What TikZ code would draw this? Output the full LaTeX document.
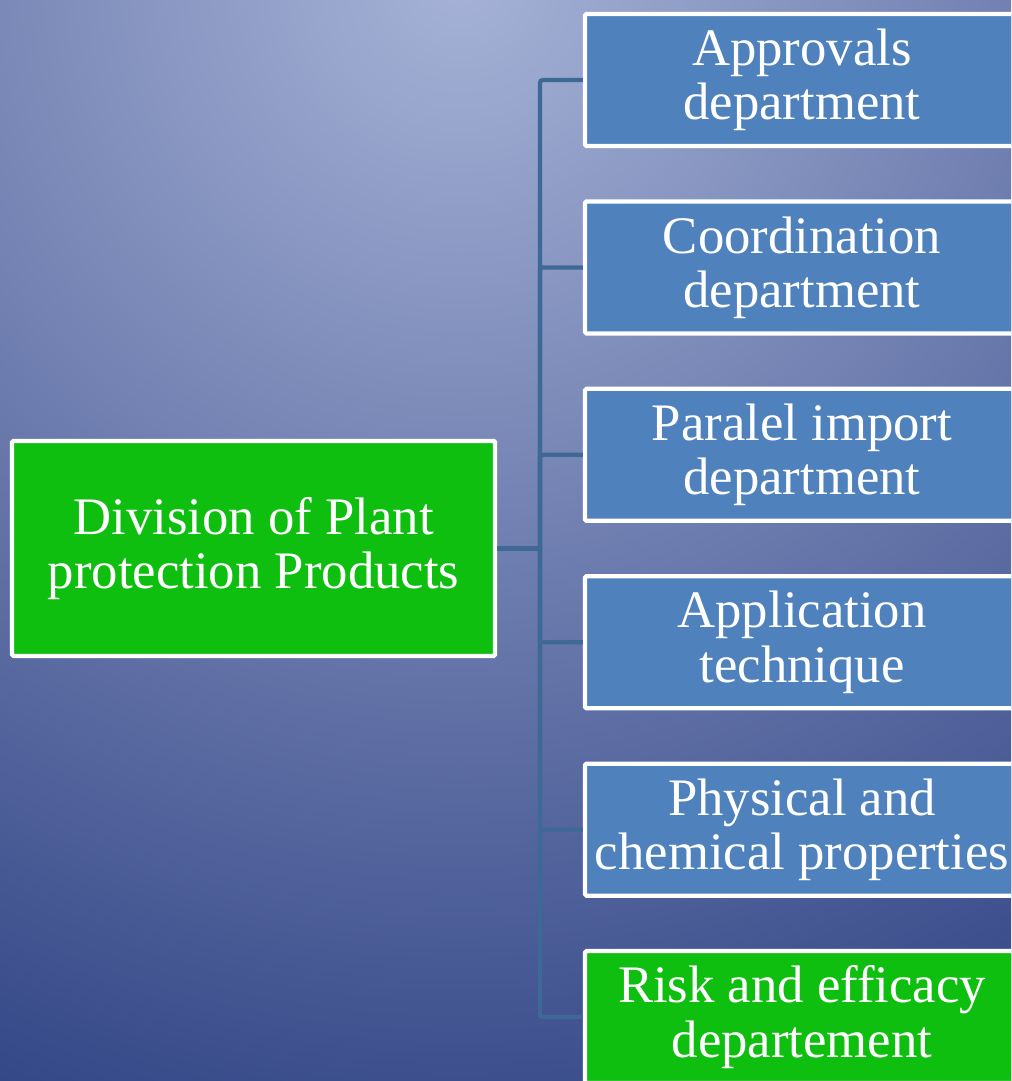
\documentclass[tikz,border=0pt]{standalone}
\usepackage{fontspec}
\setmainfont{Liberation Serif}
\usetikzlibrary{positioning}
\definecolor{mygreen}{RGB}{15, 191, 16}
\definecolor{myblue}{RGB}{79, 129, 189}
\definecolor{mylink}{RGB}{62, 104, 150}
\definecolor{mylight}{RGB}{166, 178, 214}
\definecolor{mydark}{RGB}{36, 56, 124}

\begin{document}
\begin{tikzpicture}[
        unit/.style={draw=white, line width=3pt, text=white, align=center, rounded corners=1pt,
            font=\fontsize{37.5}{38.5}\selectfont},
        dept/.style={unit, fill=myblue, minimum width=10.85cm, minimum height=3.3cm},
        link/.style={draw=mylink, line width=3pt, rounded corners=2pt},
        node distance=1.28cm
    ]
        % Background - light at the top, dark towards the bottom corners
        \useasboundingbox (0,0) rectangle (25.275,-27.025);
        \clip (0,0) rectangle (25.275,-27.025);
        \shade[inner color=mylight, outer color=mydark] (11.5,0.5) circle (34cm);

        % Green - Division
        \node[unit, fill=mygreen, minimum width=12.075cm, minimum height=5.375cm] (division) at (6.34,-13.71)
            {Division of Plant\\protection Products};

        % Blue - Departments
        \node[dept] (approvals) at (20.05,-2.0) {Approvals\\department};
        \node[dept, below=of approvals] (coordination) {Coordination\\department};
        \node[dept, below=of coordination] (paralel) {Paralel import\\department};
        \node[dept, below=of paralel] (application) {Application\\technique};
        \node[dept, below=of application] (physical) {Physical and\\chemical properties};

        % Green - Risk
        \node[dept, fill=mygreen, below=of physical] (risk) {Risk and efficacy\\departement};

        % Links
        \coordinate (trunk) at (13.5,-13.71);
        \draw[link] (division.east) -- (trunk);
        \draw[link] (trunk) |- (approvals.west);
        \draw[link] (trunk) |- (coordination.west);
        \draw[link] (trunk) |- (paralel.west);
        \draw[link] (trunk) |- (application.west);
        \draw[link] (trunk) |- (physical.west);
        \draw[link] (trunk) |- (risk.west);
    \end{tikzpicture}
\end{document}
